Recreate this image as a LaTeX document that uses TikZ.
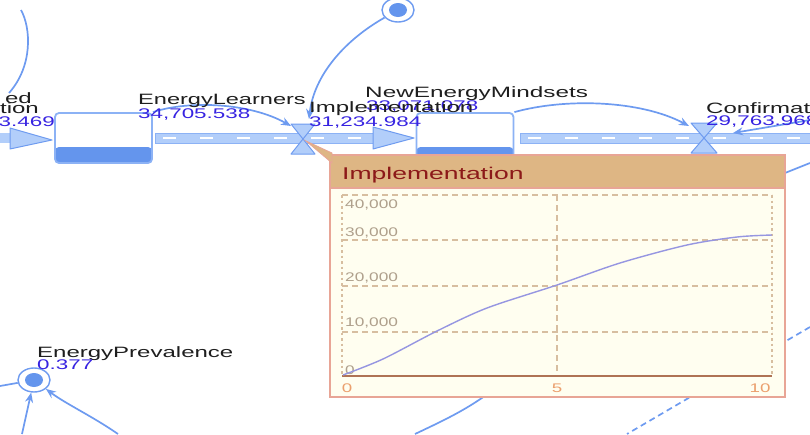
\documentclass[tikz,border=0pt]{standalone}
\usepackage{fontspec}
\setmainfont{Liberation Sans}
\usetikzlibrary{arrows.meta,shapes.geometric}
\definecolor{lnblue}{RGB}{110,155,240}
\definecolor{pipefill}{RGB}{178,206,250}
\definecolor{pipeedge}{RGB}{140,178,245}
\definecolor{stockfill}{RGB}{100,149,237}
\definecolor{valtxt}{RGB}{55,35,225}
\definecolor{lbltxt}{RGB}{30,30,30}
\definecolor{popborder}{RGB}{232,165,150}
\definecolor{popbg}{RGB}{255,254,240}
\definecolor{pophead}{RGB}{222,182,132}
\definecolor{poptitle}{RGB}{140,25,25}
\definecolor{gridc}{RGB}{215,190,160}
\definecolor{axisc}{RGB}{175,115,85}
\definecolor{ytick}{RGB}{175,160,140}
\definecolor{xtick}{RGB}{235,160,110}
\definecolor{curvec}{RGB}{150,150,225}
\newcommand\hs[2]{\scalebox{#1}[1]{#2}}
\tikzset{
  link/.style={draw=lnblue, line width=1.7pt, -{Stealth[length=10pt,width=8pt]}},
  plainlink/.style={draw=lnblue, line width=1.7pt},
  dlink/.style={draw=lnblue, line width=1.7pt, dash pattern=on 6pt off 4pt},
  stockbox/.style={draw=pipeedge, line width=1.8pt, rounded corners=4pt, fill=white,
     minimum width=97pt, minimum height=50pt, inner sep=0pt,
     path picture={\fill[stockfill] (path picture bounding box.south west) rectangle ([yshift=16pt]path picture bounding box.south east);}},
  auxnode/.style={ellipse, draw=lnblue, line width=1.4pt, fill=white, minimum width=32pt, minimum height=24pt, inner sep=0pt,
     path picture={\fill[stockfill] (path picture bounding box.center) ellipse (9pt and 7pt);}},
  valvestyle/.style={fill=pipefill, draw=lnblue, line width=1pt, line join=round},
  pipeband/.style={fill=pipefill, draw=pipeedge, line width=0.8pt},
  pipedash/.style={draw=white, line width=2.2pt, dash pattern=on 13pt off 24pt},
  lbl/.style={inner sep=0pt, text=lbltxt, font=\fontsize{15}{15}\selectfont},
  val/.style={inner sep=0pt, text=valtxt, font=\fontsize{14}{14}\selectfont},
  ytk/.style={inner sep=0pt, text=ytick, font=\fontsize{12.5}{12.5}\selectfont, anchor=base west},
  xtk/.style={inner sep=0pt, text=xtick, font=\fontsize{12.5}{12.5}\selectfont, anchor=base},
  gridline/.style={draw=gridc, line width=1.2pt, dash pattern=on 6pt off 4pt},
  gridside/.style={draw=gridc, line width=2.2pt, dash pattern=on 2.5pt off 3pt},
}
\begin{document}
\begin{tikzpicture}[x=1pt,y=-1pt]
\useasboundingbox (0,0) rectangle (810,434);
\clip (0,0) rectangle (810,434);

% ---- background connectors partly hidden by the popup
\coordinate (rtop) at (810,163);
\coordinate (rtopin) at (700,207);
\draw[plainlink] (rtopin) -- (rtop);
\coordinate (rdash) at (810,327);
\coordinate (bdash) at (627,434);
\draw[dlink] (rdash) -- (bdash);
\coordinate (bsolA) at (530,350);
\coordinate (bsolB) at (415,434);
\draw[plainlink] (bsolA) .. controls (500,395) and (455,415) .. (bsolB);
\coordinate (tlA) at (21,10);
\coordinate (tlB) at (9,93);
\draw[plainlink] (tlA) .. controls (31,28) and (33,66) .. (tlB);

% ---- pipes
\fill[pipefill] (0,133) rectangle (12,143);
\draw[pipeband] (155,133) rectangle (376,143);
\draw[pipedash] (163,138) -- (376,138);
\draw[pipeband] (520,133) rectangle (812,143);
\draw[pipedash] (528,138) -- (812,138);
\coordinate (inhead) at (52,140);
\filldraw[valvestyle] (10,128) -- (inhead) -- (10,149) -- cycle;
\coordinate (p1head) at (414,138);
\filldraw[valvestyle] (373,127) -- (p1head) -- (373,149) -- cycle;

% ---- stocks
\node[stockbox] (s1) at (103.5,138) {};
\node[stockbox] (s2) at (465,138) {};

% ---- valves
\coordinate (v1) at (303,139);
\coordinate (v2) at (704,138);
\filldraw[valvestyle] (v1) ++(-12,-15) -- ++(24,0) -- ++(-24,30) -- ++(24,0) -- cycle;
\filldraw[valvestyle] (v2) ++(-13,-15) -- ++(26,0) -- ++(-26,30) -- ++(26,0) -- cycle;

% ---- auxiliaries
\node[auxnode] (topaux) at (398,10) {};
\node[auxnode] (prev) at (34,380) {};

% ---- connectors
\coordinate (v1in) at (309,119);
\draw[link] (topaux) .. controls (345,40) and (314,75) .. (v1in);
\coordinate (v1left) at (291,126);
\draw[link] (s1.north east) .. controls (190,100) and (250,103) .. (v1left);
\coordinate (v2left) at (689,126);
\draw[link] (s2.north east) .. controls (565,98) and (640,100) .. (v2left);
\coordinate (rin) at (810,120);
\coordinate (v2right) at (733,133);
\draw[link] (rin) -- (v2right);
\coordinate (bl1) at (22,434);
\draw[link] (bl1) -- (prev);
\coordinate (bl2) at (118,434);
\draw[link] (bl2) .. controls (92,416) and (66,404) .. (prev);
\coordinate (lstub) at (0,386);
\draw[plainlink] (lstub) -- (prev);

% ---- labels
\node[lbl, anchor=base east] (edl) at (32,103) {\hs{1.6}{ed}};
\node[lbl, anchor=base east] (tionl) at (39,113) {\hs{1.6}{tion}};
\node[val, anchor=base east] (edv) at (55,126) {\hs{1.6}{3.469}};
\node[lbl, anchor=base west] (ell) at (138,104) {\hs{1.57}{EnergyLearners}};
\node[val, anchor=base west] (elv) at (138,118) {\hs{1.6}{34,705.538}};
\node[lbl, anchor=base west] (nel) at (365,97) {\hs{1.62}{NewEnergyMindsets}};
\node[val, anchor=base west] (nev) at (366,110) {\hs{1.6}{33,071.078}};
\node[lbl, anchor=base west] (iml) at (309,112) {\hs{1.6}{Implementation}};
\node[val, anchor=base west] (imv) at (309,126) {\hs{1.6}{31,234.984}};
\node[lbl, anchor=base west] (cfl) at (706,113) {\hs{1.6}{Confirmation}};
\node[val, anchor=base west] (cfv) at (706,125) {\hs{1.6}{29,763.968}};
\node[lbl, anchor=base west] (epl) at (37,357) {\hs{1.6}{EnergyPrevalence}};
\node[val, anchor=base west] (epv) at (37,369) {\hs{1.6}{0.377}};

% ---- popup
\filldraw[fill=popbg, draw=popborder, line width=1.5pt] (330,155) rectangle (785,397);
\filldraw[fill=pophead, draw=popborder, line width=1.5pt] (330,155) rectangle (785,188);
\filldraw[fill=pophead, draw=popborder, line width=0.8pt] (306,141) -- (332,153) -- (332,163) -- cycle;
\node[inner sep=0pt, anchor=base west, text=poptitle, font=\fontsize{17}{17}\selectfont] (poptitle) at (342,179) {\hs{1.56}{Implementation}};

% plot frame and grid
\draw[gridline] (342,195) -- (772,195);
\draw[gridline] (342,240) -- (772,240);
\draw[gridline] (342,286) -- (772,286);
\draw[gridline] (342,332) -- (772,332);
\draw[gridline] (557,195) -- (557,376);
\draw[gridside] (342,195) -- (342,376);
\draw[gridside] (772,195) -- (772,376);
\draw[draw=axisc, line width=1.3pt] (342,376) -- (772,376);

\node[ytk] (y40) at (345,208) {\hs{1.38}{40,000}};
\node[ytk] (y30) at (345,236) {\hs{1.38}{30,000}};
\node[ytk] (y20) at (345,281) {\hs{1.38}{20,000}};
\node[ytk] (y10) at (345,326) {\hs{1.38}{10,000}};
\node[ytk] (y0) at (345,374) {\hs{1.38}{0}};
\node[xtk] (x0) at (347,392) {\hs{1.5}{0}};
\node[xtk] (x5) at (557,392) {\hs{1.5}{5}};
\node[xtk] (x10) at (760,392) {\hs{1.5}{10}};

\draw[curvec, line width=1.4pt] plot[smooth] coordinates {(343,375) (383,359) (437,331) (487,308) (557,285) (620,263) (687,245) (737,237) (772,235)};
\end{tikzpicture}
\end{document}
